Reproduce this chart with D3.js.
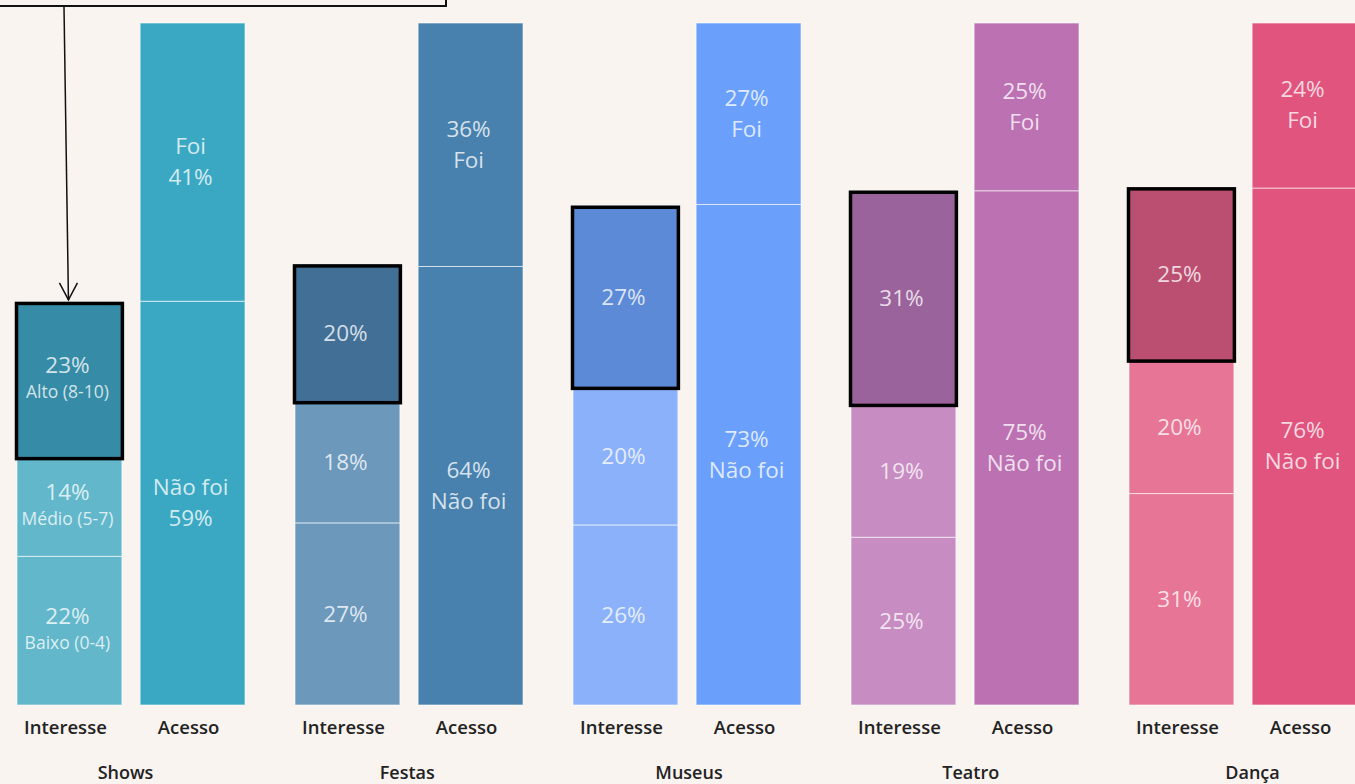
<!DOCTYPE html>
<html>
<head>
<meta charset="utf-8">
<script src="https://cdnjs.cloudflare.com/ajax/libs/d3/7.8.5/d3.min.js"></script>
<style>
  html, body { margin: 0; padding: 0; background: #f9f4f0; }
  svg { display: block; font-family: "Open Sans", sans-serif; }
</style>
</head>
<body>
<div id="chart"></div>
<script>
// categorias
var groups = ["Shows", "Festas", "Museus", "Teatro", "Dança"]
var bars = ["Interesse", "Acesso"]

// interesse (entre quem nao foi), % do total
var baixo = [21.8, 26.7, 26.4, 24.6, 31.0]
var medio = [14.4, 17.7, 20.1, 19.4, 19.5]
var alto  = [22.9, 20.2, 26.7, 31.4, 25.4]

// acesso
var naoFoi = [59.2, 64.3, 73.4, 75.4, 75.8]
var foi    = [40.8, 35.7, 26.6, 24.6, 24.2]

// nomes das faixas (so aparecem em Shows)
var levelNames = ["Baixo (0-4)", "Médio (5-7)", "Alto (8-10)"]

// cores
var colAcesso = ["#3ba8c3", "#4881ad", "#6a9ffc", "#bc72b2", "#e0547d"]
var colInteresse = ["#62b7cb", "#6b98bb", "#8ab1fa", "#c78cc1", "#e77596"]
var colAlto = ["#368ca6", "#416f96", "#5d8ad6", "#9b639b", "#bb4f72"]

var W = 1355, H = 784

var svg = d3.select("#chart").append("svg")
	.attr("width", W)
	.attr("height", H)

var x0 = d3.scaleBand()
	.domain(groups)
	.range([17, 17 + 278 * groups.length])
	.paddingInner(0)

var x1 = d3.scaleBand()
	.domain(bars)
	.range([0, 228])
	.paddingInner(0.148)
	.paddingOuter(0)

// posicao dos nomes dos grupos
var xg = d3.scalePoint()
	.domain(groups)
	.range([125, 1252])

var y = d3.scaleLinear()
	.domain([0, 100])
	.range([705, 23])

var bw = x1.bandwidth()
var pct = function(v) { return Math.round(v) + "%" }

// montar segmentos
var segs = []
groups.forEach(function(g, i) {
	var lv = [baixo[i], medio[i], alto[i]]
	var acc = 0
	lv.forEach(function(v, k) {
		segs.push({g: g, i: i, bar: "Interesse", k: k, y0: acc, y1: acc + v,
			fill: k == 2 ? colAlto[i] : colInteresse[i],
			lines: i == 0 ? [pct(v), levelNames[k]] : [pct(v)], small: i == 0})
		acc += v
	})
	segs.push({g: g, i: i, bar: "Acesso", k: 0, y0: 0, y1: naoFoi[i], fill: colAcesso[i],
		lines: i == 0 ? ["Não foi", pct(naoFoi[i])] : [pct(naoFoi[i]), "Não foi"]})
	segs.push({g: g, i: i, bar: "Acesso", k: 1, y0: naoFoi[i], y1: naoFoi[i] + foi[i], fill: colAcesso[i],
		lines: i == 0 ? ["Foi", pct(foi[i])] : [pct(foi[i]), "Foi"]})
})

var main = svg.append("g")

main.selectAll("rect.seg")
	.data(segs)
	.enter().append("rect")
	.attr("class", "seg")
	.attr("x", function(d) { return x0(d.g) + x1(d.bar) })
	.attr("y", function(d) { return y(d.y1) })
	.attr("width", bw)
	.attr("height", function(d) { return y(d.y0) - y(d.y1) })
	.attr("fill", function(d) { return d.fill })
	.attr("stroke", "#ffffff")
	.attr("stroke-opacity", 0.6)
	.attr("stroke-width", 1)

// destaque do Alto
main.selectAll("rect.hl")
	.data(segs.filter(function(d) { return d.bar == "Interesse" && d.k == 2 }))
	.enter().append("rect")
	.attr("class", "hl")
	.attr("x", function(d) { return x0(d.g) + x1(d.bar) - 0.5 })
	.attr("y", function(d) { return y(d.y1) + 1.5 })
	.attr("width", bw + 1)
	.attr("height", function(d) { return y(d.y0) - y(d.y1) - 1 })
	.attr("fill", "none")
	.attr("stroke", "#000")
	.attr("stroke-width", 3.5)

// rotulos dentro das barras
var lab = main.selectAll("g.lab")
	.data(segs)
	.enter().append("g")
	.attr("class", "lab")
	.attr("transform", function(d) {
		return "translate(" + (x0(d.g) + x1(d.bar) + bw / 2 - 2) + "," + ((y(d.y0) + y(d.y1)) / 2) + ")"
	})

lab.each(function(d) {
	var gg = d3.select(this)
	if (d.lines.length == 1) {
		gg.append("text").attr("y", 0).attr("dy", "0.35em")
			.attr("font-size", 22.5).text(d.lines[0])
	} else if (d.small) {
		gg.append("text").attr("y", -15).attr("dy", "0.35em")
			.attr("font-size", 22.5).text(d.lines[0])
		gg.append("text").attr("y", 12).attr("dy", "0.35em")
			.attr("font-size", 17.5).text(d.lines[1])
	} else {
		gg.append("text").attr("y", -16).attr("dy", "0.35em")
			.attr("font-size", 22.5).text(d.lines[0])
		gg.append("text").attr("y", 15).attr("dy", "0.35em")
			.attr("font-size", 22.5).text(d.lines[1])
	}
})
lab.selectAll("text")
	.attr("text-anchor", "middle")
	.attr("fill", "#ffffff")
	.attr("fill-opacity", 0.78)

// eixo das barras (Interesse / Acesso)
groups.forEach(function(g) {
	var ax = svg.append("g")
		.attr("transform", "translate(" + (x0(g) - 4) + "," + 705 + ")")
		.call(d3.axisBottom(x1).tickSize(0).tickPadding(16))
	ax.select(".domain").remove()
	ax.selectAll("text")
		.attr("font-size", 18.5)
		.attr("font-weight", 600)
		.attr("fill", "#222")
		.attr("font-family", "Open Sans, sans-serif")
})

// eixo dos grupos
var gx = svg.append("g")
	.attr("transform", "translate(0," + 752 + ")")
	.call(d3.axisBottom(xg).tickSize(0).tickPadding(14))
gx.select(".domain").remove()
gx.selectAll("text")
	.attr("font-size", 18)
	.attr("font-weight", 600)
	.attr("fill", "#222")
	.attr("font-family", "Open Sans, sans-serif")

// caixa de anotacao cortada no topo + seta
svg.append("rect")
	.attr("x", -10).attr("y", -40)
	.attr("width", 456).attr("height", 46)
	.attr("fill", "none")
	.attr("stroke", "#111")
	.attr("stroke-width", 2)

var tipX = x0("Shows") + x1("Interesse") + bw / 2 - 1
var tipY = y(baixo[0] + medio[0] + alto[0]) - 2
svg.append("line")
	.attr("x1", 64).attr("y1", 7)
	.attr("x2", tipX).attr("y2", tipY)
	.attr("stroke", "#111")
	.attr("stroke-width", 1.5)
svg.append("path")
	.attr("d", "M" + (tipX - 9) + "," + (tipY - 17) + "L" + tipX + "," + tipY + "L" + (tipX + 9) + "," + (tipY - 17))
	.attr("fill", "none")
	.attr("stroke", "#111")
	.attr("stroke-width", 1.5)
</script>
</body>
</html>
